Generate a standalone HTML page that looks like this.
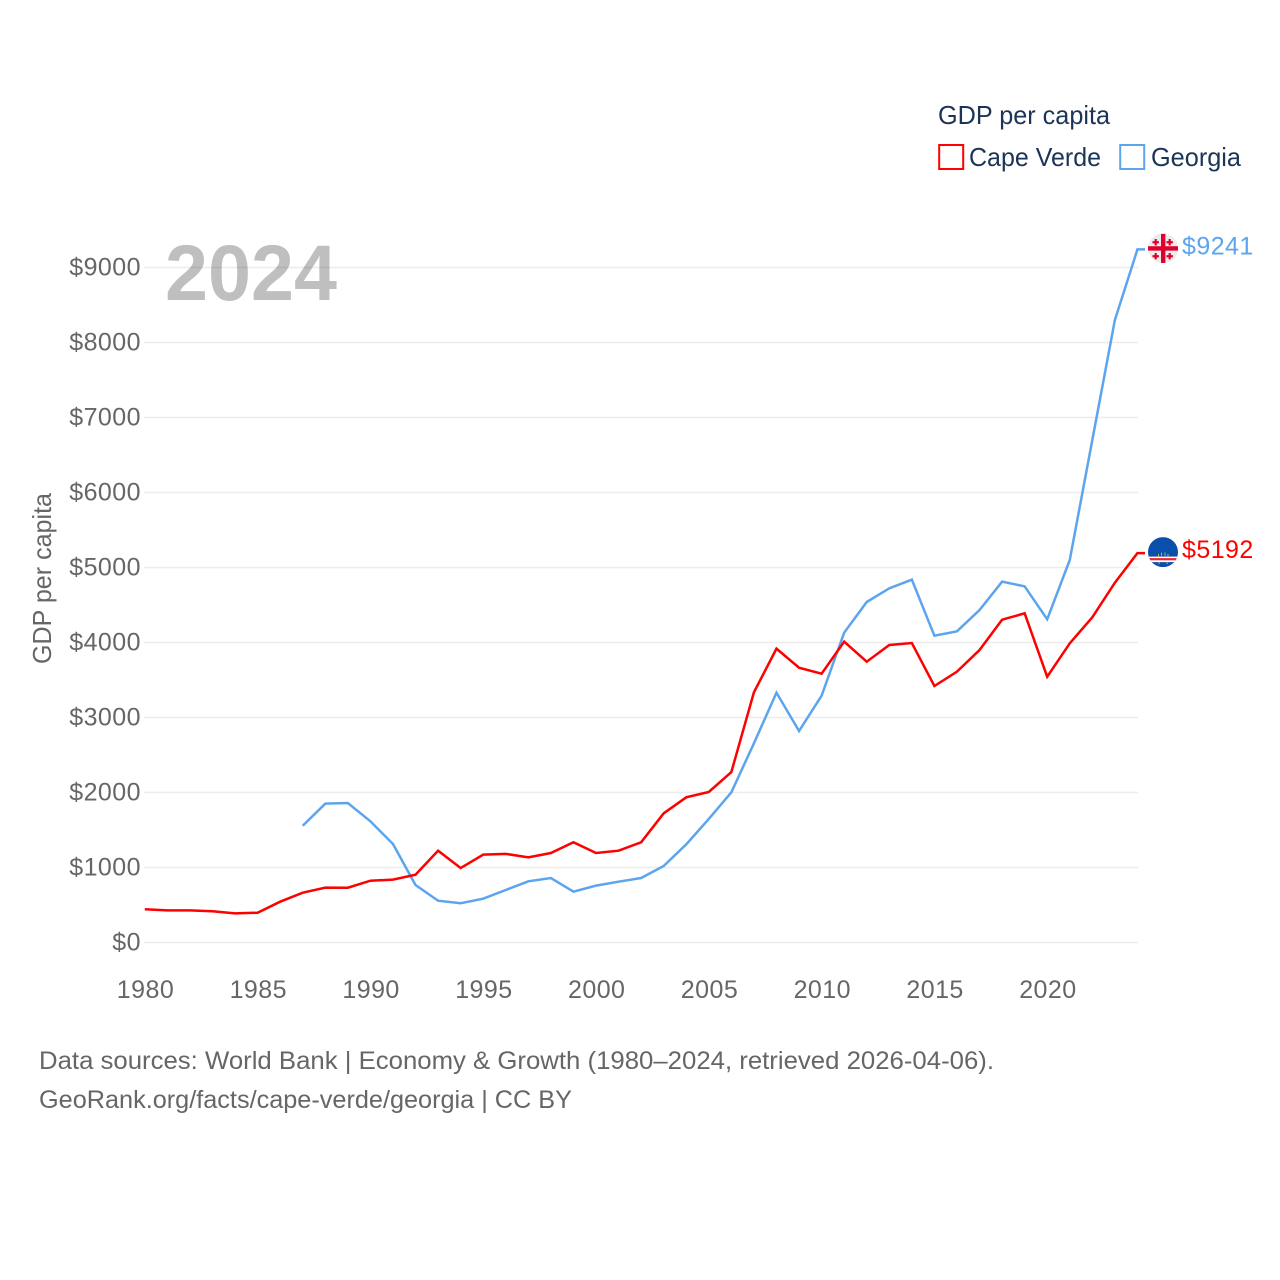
<!DOCTYPE html>
<html lang="en">
<head>
<meta charset="utf-8">
<title>GDP per capita: Cape Verde and Georgia</title>
<style>
html,body{margin:0;padding:0;background:#fff;width:1280px;height:1280px;overflow:hidden}
svg{display:block;font-family:"Liberation Sans",Arial,sans-serif}
.tick{font-size:25px;fill:#666;letter-spacing:.45px}
.foot{font-size:25px;fill:#666}
.leg{font-size:26px;fill:#1c3557}
</style>
</head>
<body>
<svg id="chart" xmlns="http://www.w3.org/2000/svg" width="1280" height="1280" viewBox="0 0 1280 1280">
  <rect x="0" y="0" width="1280" height="1280" fill="#fff"/>
  <g id="grid"></g>
  <g id="yticks"></g>
  <g id="xticks"></g>
  <text class="leg" style="fill:#666" transform="translate(51,664) rotate(-90)" textLength="171" lengthAdjust="spacingAndGlyphs">GDP per capita</text>
  <text x="165" y="300" font-size="79" font-weight="700" fill="#000" fill-opacity=".25" textLength="172" lengthAdjust="spacingAndGlyphs">2024</text>
  <g id="series"></g>

  <g>
    <text class="leg" x="938" y="124" textLength="172" lengthAdjust="spacingAndGlyphs">GDP per capita</text>
    <g>
      <rect x="939.2" y="145" width="24" height="24" fill="#fff" stroke="#ff0000" stroke-width="2"/>
      <text class="leg" x="969" y="166" textLength="132" lengthAdjust="spacingAndGlyphs">Cape Verde</text>
    </g>
    <g>
      <rect x="1120.2" y="145" width="24" height="24" fill="#fff" stroke="#5ca5ee" stroke-width="2"/>
      <text class="leg" x="1151" y="166" textLength="90" lengthAdjust="spacingAndGlyphs">Georgia</text>
    </g>
  </g>

  <g id="flag-georgia">
    <circle cx="15" cy="15" r="15" fill="#ececec"/>
    <rect x="13" y="0.5" width="4.4" height="29" fill="#e0002d"/>
    <rect x="0" y="12.8" width="30" height="4.4" fill="#e0002d"/>
    <path d="M6.6 5.6h2.2v2.1h2.1v2.2H8.8v2.1H6.6V9.9H4.5V7.7h2.1zM20.6 5.6h2.2v2.1h2.1v2.2h-2.1v2.1h-2.2V9.9h-2.1V7.7h2.1zM6.6 19.6h2.2v2.1h2.1v2.2H8.8v2.1H6.6v-2.1H4.5v-2.2h2.1zM20.6 19.6h2.2v2.1h2.1v2.2h-2.1v2.1h-2.2v-2.1h-2.1v-2.2h2.1z" fill="#e0002d"/>
  </g>
  <g id="flag-cape-verde">
    <clipPath id="cv-clip"><circle cx="15" cy="15" r="15"/></clipPath>
    <g clip-path="url(#cv-clip)">
      <rect x="0" y="0" width="30" height="30" fill="#0a50ab"/>
      <rect x="0" y="19.5" width="30" height="5.5" fill="#fff"/>
      <rect x="0" y="21" width="30" height="2.2" fill="#f0222e"/>
      <g fill="#c9b25a">
        <rect x="10" y="17" width="1" height="3"/>
        <rect x="13" y="15.5" width="1" height="3"/>
        <rect x="16.5" y="15.5" width="1" height="3"/>
        <rect x="19.5" y="17" width="1" height="3"/>
        <rect x="10.5" y="25" width="1" height="2"/>
        <rect x="18.5" y="25" width="1" height="2"/>
      </g>
    </g>
  </g>
  <text id="label-georgia" class="tick" style="fill:#5ca5ee" x="1182" y="254"></text>
  <text id="label-cape-verde" class="tick" style="fill:#ff0000" x="1182" y="558"></text>

  <text class="foot" x="39" y="1069" textLength="955" lengthAdjust="spacingAndGlyphs">Data sources: World Bank | Economy &amp; Growth (1980–2024, retrieved 2026-04-06).</text>
  <text class="foot" x="39" y="1108" textLength="533" lengthAdjust="spacingAndGlyphs">GeoRank.org/facts/cape-verde/georgia | CC BY</text>
</svg>
<script>
const years = [1980,1981,1982,1983,1984,1985,1986,1987,1988,1989,1990,1991,1992,1993,1994,1995,1996,1997,1998,1999,2000,2001,2002,2003,2004,2005,2006,2007,2008,2009,2010,2011,2012,2013,2014,2015,2016,2017,2018,2019,2020,2021,2022,2023,2024];
const capeVerde = [443,429,428,416,389,397,544,664,731,730,824,838,904,1224,993,1171,1182,1136,1193,1336,1193,1224,1336,1722,1936,2007,2273,3336,3918,3664,3584,4011,3744,3967,3993,3420,3611,3900,4304,4389,3544,3989,4336,4797,5192];
const georgia = [null,null,null,null,null,null,null,1557,1851,1860,1616,1313,767,557,523,584,700,816,860,678,758,811,860,1020,1309,1647,2003,2656,3331,2820,3291,4131,4540,4722,4838,4091,4149,4433,4811,4749,4309,5100,6700,8300,9241];
const yTicks = [0,1000,2000,3000,4000,5000,6000,7000,8000,9000];
const xTicks = [1980,1985,1990,1995,2000,2005,2010,2015,2020];

const NS = 'http://www.w3.org/2000/svg';
const xScale = function (year) { return 144.8 + (year - 1980) * 22.56; };
const yScale = function (value) { return 942.5 - value * 0.075; };

const grid = document.getElementById('grid');
const yGroup = document.getElementById('yticks');
const xGroup = document.getElementById('xticks');
const seriesGroup = document.getElementById('series');

yTicks.forEach(function (tick) {
  const line = document.createElementNS(NS, 'line');
  
  
  line.setAttribute('x1', 144);
  line.setAttribute('x2', 1138);
  line.setAttribute('y1', yScale(tick));
  line.setAttribute('y2', yScale(tick));
  line.setAttribute('stroke', '#ececec');
  line.setAttribute('stroke-width', '1.5');
  grid.appendChild(line);

  const label = document.createElementNS(NS, 'text');
  
  
  label.setAttribute('class', 'tick');
  label.setAttribute('x', 141);
  label.setAttribute('y', yScale(tick) + 8);
  label.setAttribute('text-anchor', 'end');
  label.textContent = '$' + tick;
  yGroup.appendChild(label);
});

xTicks.forEach(function (tick) {
  const label = document.createElementNS(NS, 'text');
  
  
  label.setAttribute('class', 'tick');
  label.setAttribute('x', xScale(tick) + 0.7);
  label.setAttribute('y', 998);
  label.setAttribute('text-anchor', 'middle');
  label.textContent = String(tick);
  xGroup.appendChild(label);
});

function linePath(values) {
  let d = '';
  let last = null;
  values.forEach(function (value, i) {
    if (value === null) { return; }
    d += (last === null ? 'M' : 'L') + xScale(years[i]).toFixed(2) + ' ' + yScale(value).toFixed(2);
    last = value;
  });
  d += 'L1145 ' + yScale(last).toFixed(2);
  return d;
}

const georgiaLine = document.createElementNS(NS, 'path');


georgiaLine.setAttribute('d', linePath(georgia));
georgiaLine.setAttribute('fill', 'none');
georgiaLine.setAttribute('stroke', '#5ca5ee');
georgiaLine.setAttribute('stroke-width', '2.5');
georgiaLine.setAttribute('stroke-linejoin', 'miter');
seriesGroup.appendChild(georgiaLine);

const capeVerdeLine = document.createElementNS(NS, 'path');


capeVerdeLine.setAttribute('d', linePath(capeVerde));
capeVerdeLine.setAttribute('fill', 'none');
capeVerdeLine.setAttribute('stroke', '#ff0000');
capeVerdeLine.setAttribute('stroke-width', '2.5');
capeVerdeLine.setAttribute('stroke-linejoin', 'miter');
seriesGroup.appendChild(capeVerdeLine);

const lastGeorgia = georgia[georgia.length - 1];
const lastCapeVerde = capeVerde[capeVerde.length - 1];
document.getElementById('flag-georgia').setAttribute('transform', 'translate(1148,' + (yScale(lastGeorgia) - 16) + ')');
document.getElementById('flag-cape-verde').setAttribute('transform', 'translate(1148,' + (yScale(lastCapeVerde) - 16) + ')');
const labelGeorgia = document.getElementById('label-georgia');
labelGeorgia.setAttribute('y', yScale(lastGeorgia) + 5);
labelGeorgia.textContent = '$' + lastGeorgia;
const labelCapeVerde = document.getElementById('label-cape-verde');
labelCapeVerde.setAttribute('y', yScale(lastCapeVerde) + 5);
labelCapeVerde.textContent = '$' + lastCapeVerde;
</script>
</body>
</html>
